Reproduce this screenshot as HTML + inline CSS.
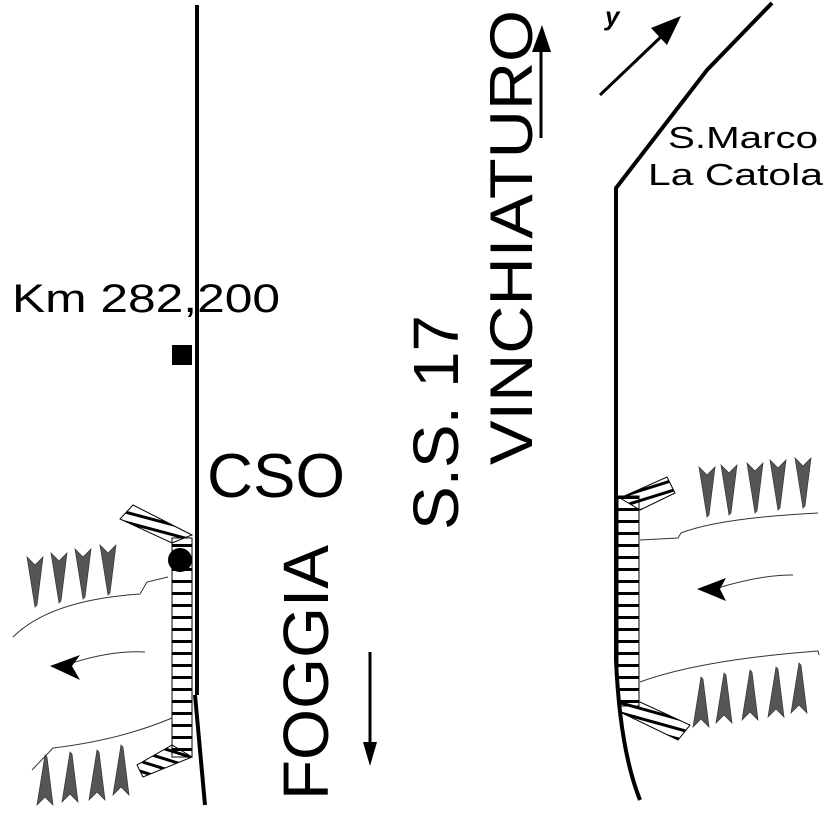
<!DOCTYPE html>
<html><head><meta charset="utf-8"><style>html,body{margin:0;padding:0;background:#fff}svg{display:block}text{font-family:"Liberation Sans",Arial,sans-serif;fill:#000}</style></head>
<body>
<svg width="827" height="827" viewBox="0 0 827 827" xmlns="http://www.w3.org/2000/svg">
<defs>
<pattern id="h" width="40" height="12" patternUnits="userSpaceOnUse"><rect x="0" y="4" width="40" height="3" fill="#000"/></pattern>
<clipPath id="c1"><polygon points="133,505 120,519 172,543 192,535"/></clipPath>
<clipPath id="c2"><polygon points="172,745 137,765 143,777 192,757"/></clipPath>
<clipPath id="c3"><polygon points="620,498 667,477 675,493 640,510"/></clipPath>
<clipPath id="c4"><polygon points="620,702 640,702 690,725 678,740 620,712"/></clipPath>
<g id="cd"><path d="M-8,-25 L0,-17 L8,-25 L2,23 L0,25z" fill="#555" stroke="#333" stroke-width="0.7"/></g>
<g id="cu"><path d="M-8,25 L0,17 L8,25 L2,-23 L0,-25z" fill="#555" stroke="#333" stroke-width="0.7"/></g>
</defs>
<path d="M197,5 L197,695" stroke="#000" stroke-width="4" fill="none"/>
<path d="M195,695 Q200,750 205,805" stroke="#000" stroke-width="4" fill="none"/>
<path d="M772,3 L707,70 L616,188 L616,660 Q620,750 640,800" stroke="#000" stroke-width="4" fill="none"/>
<g clip-path="url(#c1)" stroke="#000" stroke-width="3">
<line x1="110" y1="508" x2="200" y2="532"/><line x1="110" y1="518" x2="200" y2="542"/><line x1="110" y1="498" x2="200" y2="522"/><line x1="110" y1="528" x2="200" y2="552"/></g>
<polygon points="133,505 120,519 172,543 192,535" fill="none" stroke="#000" stroke-width="1"/>
<rect x="172" y="538" width="20" height="219" fill="url(#h)" stroke="#000" stroke-width="1"/>
<g clip-path="url(#c2)" stroke="#000" stroke-width="3">
<line x1="130" y1="748" x2="200" y2="770"/><line x1="130" y1="758" x2="200" y2="780"/><line x1="130" y1="738" x2="200" y2="760"/><line x1="130" y1="768" x2="200" y2="790"/><line x1="130" y1="728" x2="200" y2="750"/></g>
<polygon points="172,745 137,765 143,777 192,757" fill="none" stroke="#000" stroke-width="1"/>
<circle cx="180" cy="560" r="12" fill="#000"/>
<rect x="172" y="345" width="20" height="20" fill="#000"/>
<use href="#cd" x="35" y="582"/><use href="#cd" x="59" y="578"/><use href="#cd" x="83" y="574"/><use href="#cd" x="108" y="570"/>
<use href="#cu" x="45" y="780"/><use href="#cu" x="70" y="777"/><use href="#cu" x="97" y="775"/><use href="#cu" x="121" y="770"/>
<path d="M13,637 Q50,600 140,594 L147,582 L168,577" stroke="#333" stroke-width="1" fill="none"/>
<path d="M32,770 L53,748 Q120,740 172,718" stroke="#333" stroke-width="1" fill="none"/>
<path d="M145,652 Q110,650 66,665" stroke="#333" stroke-width="1" fill="none"/>
<path d="M50,666 L80,655 L72,666 L80,680z" fill="#000"/>
<g clip-path="url(#c3)" stroke="#000" stroke-width="3">
<line x1="610" y1="500" x2="690" y2="475"/><line x1="610" y1="510" x2="690" y2="485"/><line x1="610" y1="520" x2="690" y2="495"/><line x1="610" y1="490" x2="690" y2="465"/></g>
<polygon points="620,498 667,477 675,493 640,510" fill="none" stroke="#000" stroke-width="1"/>
<rect x="618" y="496" width="21" height="210" fill="url(#h)" stroke="#000" stroke-width="1"/>
<g clip-path="url(#c4)" stroke="#000" stroke-width="3">
<line x1="610" y1="700" x2="700" y2="725"/><line x1="610" y1="710" x2="700" y2="735"/><line x1="610" y1="690" x2="700" y2="715"/><line x1="610" y1="720" x2="700" y2="745"/></g>
<polygon points="620,702 640,702 690,725 678,740 620,712" fill="none" stroke="#000" stroke-width="1"/>
<use href="#cd" x="707" y="492"/><use href="#cd" x="729" y="490"/><use href="#cd" x="755" y="488"/><use href="#cd" x="778" y="485"/><use href="#cd" x="803" y="483"/>
<use href="#cu" x="701" y="702"/><use href="#cu" x="724" y="698"/><use href="#cu" x="750" y="695"/><use href="#cu" x="776" y="692"/><use href="#cu" x="799" y="688"/>
<path d="M640,540 L678,538 L681,533 Q720,518 818,513" stroke="#333" stroke-width="1" fill="none"/>
<path d="M640,682 Q700,660 818,651 L819,655" stroke="#333" stroke-width="1" fill="none"/>
<path d="M793,575 Q760,575 718,588" stroke="#333" stroke-width="1" fill="none"/>
<path d="M697,589 L726,578 L720,589 L726,601z" fill="#000"/>
<line x1="370" y1="652" x2="370" y2="745" stroke="#000" stroke-width="3"/>
<path d="M363,742 L370,766 L377,742z" fill="#000"/>
<line x1="541" y1="138" x2="541" y2="45" stroke="#000" stroke-width="3"/>
<path d="M532,52 L542,25 L551,52z" fill="#000"/>
<line x1="600" y1="95" x2="665" y2="33" stroke="#000" stroke-width="3"/>
<path d="M651,28 L681,16 L667,45z" fill="#000"/>
<text x="12" y="312" font-size="40" textLength="268" lengthAdjust="spacingAndGlyphs">Km 282,200</text>
<text x="207" y="497" font-size="62" textLength="138" lengthAdjust="spacingAndGlyphs">CSO</text>
<text transform="translate(328,800) rotate(-90)" font-size="64" textLength="255" lengthAdjust="spacingAndGlyphs">FOGGIA</text>
<text transform="translate(458,530) rotate(-90)" font-size="64" textLength="215" lengthAdjust="spacingAndGlyphs">S.S. 17</text>
<text transform="translate(532,465) rotate(-90)" font-size="60" textLength="455" lengthAdjust="spacingAndGlyphs">VINCHIATURO</text>
<text x="668" y="148" font-size="31" textLength="150" lengthAdjust="spacingAndGlyphs">S.Marco</text>
<text x="648" y="185" font-size="31" textLength="175" lengthAdjust="spacingAndGlyphs">La Catola</text>
<text x="605" y="25" font-size="26" font-style="italic" font-weight="bold">y</text>
</svg>
</body></html>
